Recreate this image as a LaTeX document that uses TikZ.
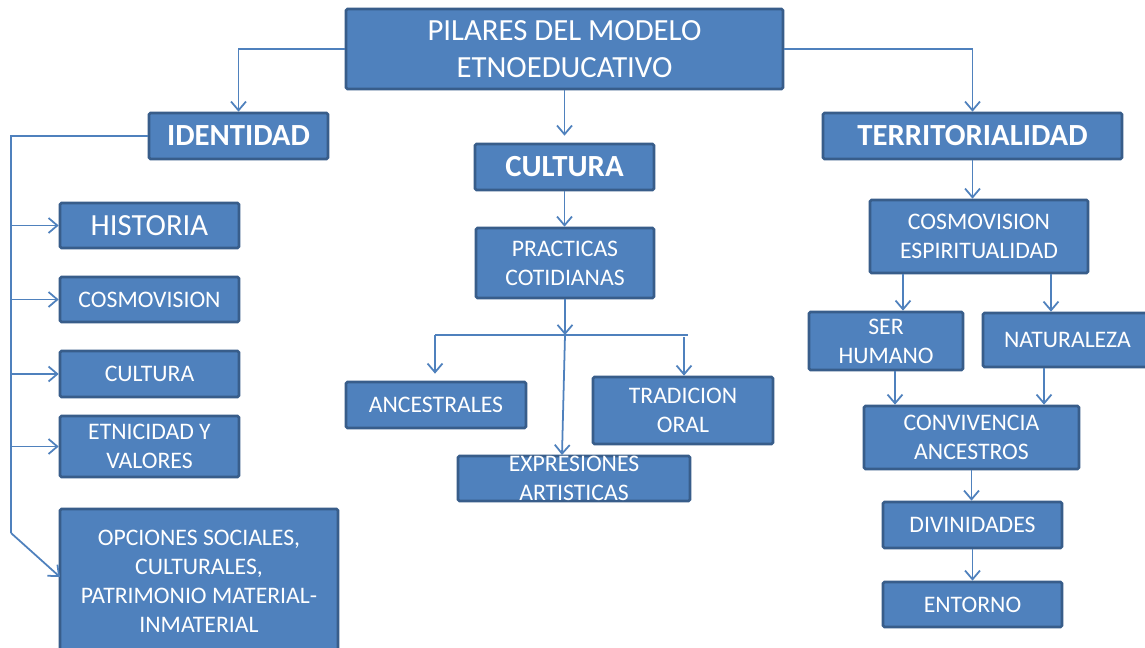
\documentclass[tikz,border=0pt]{standalone}
\usepackage{fontspec}
\setmainfont{Carlito}
\usetikzlibrary{arrows.meta}
\definecolor{boxfill}{RGB}{79,129,189}
\definecolor{boxline}{RGB}{56,93,138}
\definecolor{conncol}{RGB}{79,129,189}
\tikzset{
  box/.style={draw=boxline, fill=boxfill, line width=1.5pt, text=white, align=center, inner sep=0pt, rounded corners=0.8pt},
  sz/.style 2 args={minimum width=#1*0.02cm, minimum height=#2*0.02cm},
  small/.style={font=\fontsize{13.5}{16.5}\selectfont},
  large/.style={font=\fontsize{17.5}{21}\selectfont},
  largeb/.style={font=\fontsize{17.5}{21}\selectfont\bfseries},
  wire/.style={draw=conncol, line width=1pt},
  conn/.style={wire, -{Straight Barb[length=5pt,width=8.5pt,line width=1pt]}},
}
\begin{document}
\begin{tikzpicture}[x=0.02cm, y=-0.02cm]
\useasboundingbox (0,0) rectangle (1145,648);
\clip (0,0) rectangle (1145,648);
\fill[white] (0,0) rectangle (1145,648);
% nodes
\node[box, large, sz={437}{80}] (title) at (564.5,49) {PILARES DEL MODELO\\ETNOEDUCATIVO};
\node[box, largeb, sz={179}{46}] (iden) at (238.5,136) {IDENTIDAD};
\node[box, largeb, sz={179}{46}] (cult) at (564.5,167) {CULTURA};
\node[box, largeb, sz={299}{46}] (terr) at (972.5,136) {TERRITORIALIDAD};
% left column
\node[box, large, sz={179}{45}] (hist) at (149.5,225.5) {HISTORIA};
\node[box, small, sz={179}{45}] (cosmo) at (149.5,299.5) {COSMOVISION};
\node[box, small, sz={179}{46}] (cult2) at (149.5,374) {CULTURA};
\node[box, small, sz={179}{61}] (etn) at (149.5,446.5) {ETNICIDAD Y\\VALORES};
\node[box, small, sz={278}{144}] (opc) at (199,581) {OPCIONES SOCIALES,\\CULTURALES,\\PATRIMONIO MATERIAL-\\INMATERIAL};
% middle column
\node[box, small, sz={178}{70}] (prac) at (565,263) {PRACTICAS\\COTIDIANAS};
\node[box, small, sz={180}{46}] (ance) at (436,405) {ANCESTRALES};
\node[box, small, sz={180}{67}] (trad) at (683,410.5) {TRADICION\\ORAL};
\node[box, sz={232}{45}, label={[small, text=white, align=center]center:{EXPRESIONES\\ARTISTICAS}}] (expr) at (574,478.5) {};
% right column
\node[box, small, sz={218}{73}] (cesp) at (979,236.5) {COSMOVISION\\ESPIRITUALIDAD};
\node[box, small, sz={154}{58}] (ser) at (886,341) {SER\\HUMANO};
\node[box, small, sz={169}{54}] (nat) at (1067.5,340) {NATURALEZA};
\node[box, small, sz={215}{63}] (conv) at (971.5,437.5) {CONVIVENCIA\\ANCESTROS};
\node[box, small, sz={179}{46}] (div) at (972.5,525) {DIVINIDADES};
\node[box, small, sz={179}{45}] (ent) at (972.5,604.5) {ENTORNO};
% top connectors
\draw[conn] (title.west) -| (iden.north);
\draw[conn] (title.east) -| (terr.north);
\draw[conn, shorten >=4pt] (title.south) -- (cult.north);
% identidad trunk
\coordinate (trunkTop) at (11,136);
\coordinate (trunkBot) at (11,533);
\coordinate (opcIn) at (60,577);
\draw[wire] (iden.west) -- (trunkTop) -- (trunkBot);
\draw[conn] (trunkBot) -- (opcIn);
\draw[conn] (trunkTop |- hist.west) -- (hist.west);
\draw[conn] (trunkTop |- cosmo.west) -- (cosmo.west);
\draw[conn] (trunkTop |- cult2.west) -- (cult2.west);
\draw[conn] (trunkTop |- etn.west) -- (etn.west);
% cultura
\draw[conn] (cult.south) -- (cult.south |- prac.north);
\coordinate (barMid) at (565,335);
\coordinate (barL) at (435,335);
\coordinate (barR) at (688,335);
\coordinate (tradTop) at (684,337);
\coordinate (exprIn) at (562,455);
\draw[conn] (prac.south) -- (barMid);
\draw[wire] (barL) -- (barR);
\draw[conn, shorten >=4pt] (barL) -- (barL |- ance.north);
\draw[conn] (tradTop) -- (tradTop |- trad.north);
\draw[conn] (barMid) -- (exprIn);
% territorialidad
\draw[conn] (terr.south) -- (terr.south |- cesp.north);
\draw[conn] ([xshift=-1.52cm]cesp.south) -- ([xshift=-1.52cm]cesp.south |- ser.north);
\draw[conn] ([xshift=1.44cm]cesp.south) -- ([xshift=1.44cm]cesp.south |- nat.north);
\draw[conn] ([xshift=0.18cm]ser.south) -- ([xshift=0.18cm]ser.south |- conv.north);
\draw[conn] ([xshift=-0.47cm]nat.south) -- ([xshift=-0.47cm]nat.south |- conv.north);
\draw[conn] (conv.south) -- (conv.south |- div.north);
\draw[conn] (div.south) -- (div.south |- ent.north);
\end{tikzpicture}
\end{document}
